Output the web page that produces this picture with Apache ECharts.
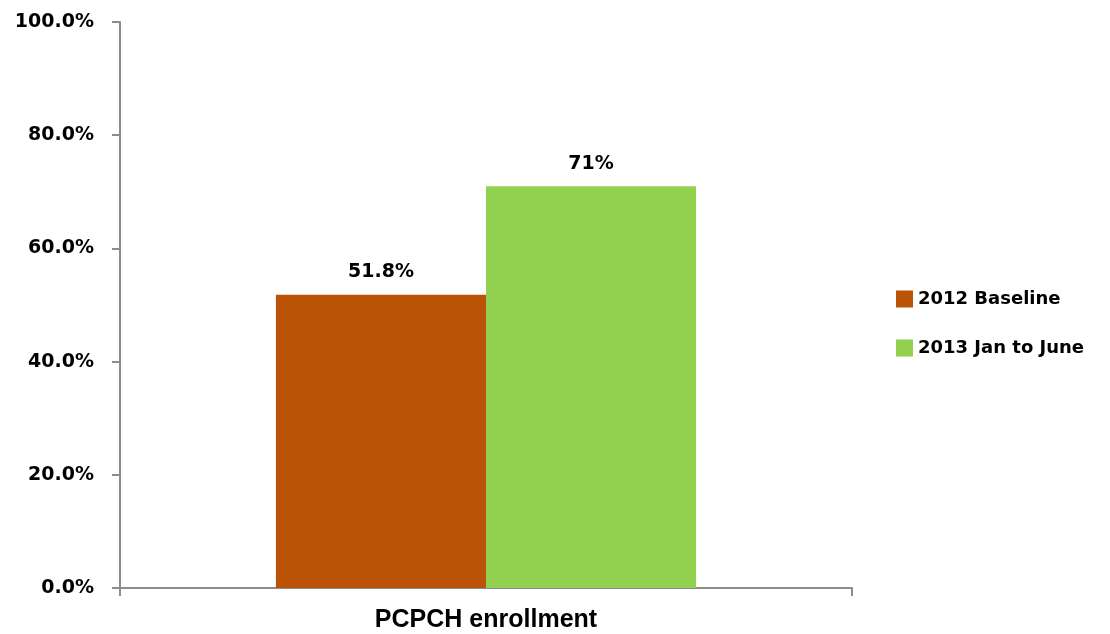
<!DOCTYPE html>
<html>
<head>
<meta charset="utf-8">
<script src="https://cdn.jsdelivr.net/npm/echarts@6/dist/echarts.min.js"></script>
<style>
  html, body { margin: 0; padding: 0; background: #fff; }
  #echarts { width: 1110px; height: 634px; }
</style>
</head>
<body>
<div id="echarts"></div>
<script>
// data
var categories = ['PCPCH enrollment'];
var seriesNames = ['2012 Baseline', '2013 Jan to June'];
var baselineValues = [51.8];
var janJuneValues = [71];
var barLabels = ['51.8%', '71%'];
var colors = ['#BB5306', '#92D050'];

var myChart = echarts.init(document.getElementById('echarts'));

var wideFont = '"DejaVu Sans", Verdana, sans-serif';
var arialFont = '"Liberation Sans", Arial, sans-serif';

function makeSeries(name, data, color, label) {
  return {
    name: name,
    type: 'bar',
    data: data,
    barGap: '0%',
    barCategoryGap: '42.6%',
    itemStyle: { color: color },
    label: {
      show: true,
      position: 'top',
      distance: 13,
      formatter: function () { return label; },
      color: '#000',
      fontWeight: 'bold',
      fontSize: 19,
      fontFamily: wideFont
    }
  };
}

var myOption = {
  backgroundColor: '#fff',
  animation: false,
  grid: {
    left: 120,
    top: 22,
    right: 258,
    bottom: 46
  },
  legend: {
    orient: 'vertical',
    left: 891,
    top: 285,
    itemWidth: 17,
    itemHeight: 17,
    itemGap: 31,
    icon: 'rect',
    textStyle: {
      color: '#000',
      fontWeight: 'bold',
      fontSize: 18,
      fontFamily: wideFont,
      padding: [0, 0, 0, 0]
    },
    data: seriesNames
  },
  xAxis: [{
    type: 'category',
    data: categories,
    axisLine: { lineStyle: { color: '#8c8c8c', width: 2 } },
    axisTick: { show: true, length: 8, lineStyle: { color: '#8c8c8c', width: 2 } },
    axisLabel: {
      color: '#000',
      fontWeight: 'bold',
      fontSize: 25,
      fontFamily: arialFont,
      margin: 20
    }
  }],
  yAxis: [{
    type: 'value',
    min: 0,
    max: 100,
    interval: 20,
    splitLine: { show: false },
    axisLine: { show: true, lineStyle: { color: '#8c8c8c', width: 2 } },
    axisTick: { show: true, length: 8, lineStyle: { color: '#8c8c8c', width: 2 } },
    axisLabel: {
      color: '#000',
      fontWeight: 'bold',
      fontSize: 19,
      fontFamily: wideFont,
      margin: 26,
      formatter: function (v) { return v.toFixed(1) + '%'; }
    }
  }],
  series: [
    makeSeries(seriesNames[0], baselineValues, colors[0], barLabels[0]),
    makeSeries(seriesNames[1], janJuneValues, colors[1], barLabels[1])
  ]
};

myChart.setOption(myOption);
</script>
</body>
</html>
